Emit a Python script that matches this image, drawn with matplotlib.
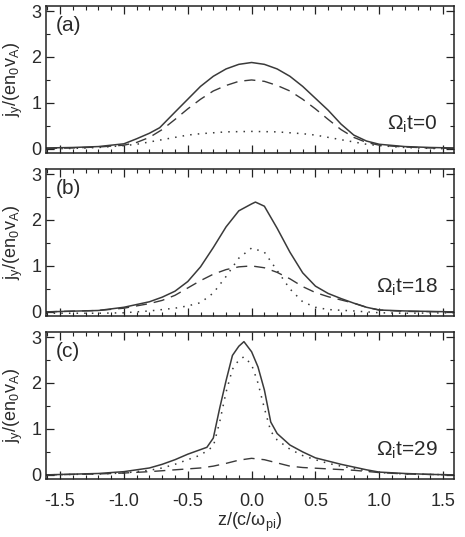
import matplotlib
matplotlib.use("Agg")
import matplotlib.pyplot as plt
import numpy as np
from matplotlib.ticker import MultipleLocator

plt.rcParams['font.family'] = ['Liberation Sans', 'DejaVu Sans']
plt.rcParams['mathtext.fontset'] = 'custom'
plt.rcParams['mathtext.rm'] = 'Liberation Sans'
plt.rcParams['mathtext.it'] = 'Liberation Sans'

# Panel (a) Omega_i t = 0
a_solid_x = [-1.61, -1.4, -1.2, -1.0, -0.9, -0.8, -0.72, -0.6, -0.5, -0.4, -0.3, -0.2, -0.1, 0.0, 0.1, 0.2, 0.3, 0.4, 0.5, 0.6, 0.7, 0.8, 0.9, 1.0, 1.2, 1.4, 1.58]
a_solid_y = [0.02, 0.03, 0.05, 0.11, 0.22, 0.34, 0.46, 0.80, 1.08, 1.36, 1.58, 1.74, 1.84, 1.88, 1.84, 1.74, 1.58, 1.36, 1.10, 0.84, 0.54, 0.30, 0.17, 0.10, 0.05, 0.03, 0.02]
a_dash_x = [-1.61, -1.4, -1.2, -1.0, -0.9, -0.8, -0.7, -0.6, -0.5, -0.4, -0.3, -0.2, -0.1, 0.0, 0.1, 0.2, 0.3, 0.4, 0.5, 0.6, 0.7, 0.8, 0.9, 1.0, 1.2, 1.4, 1.58]
a_dash_y = [0.01, 0.02, 0.04, 0.08, 0.14, 0.25, 0.42, 0.64, 0.87, 1.08, 1.26, 1.38, 1.47, 1.50, 1.47, 1.38, 1.26, 1.08, 0.87, 0.64, 0.42, 0.25, 0.14, 0.08, 0.04, 0.02, 0.01]
a_dot_x = [-1.61, -1.4, -1.2, -1.0, -0.9, -0.8, -0.7, -0.6, -0.5, -0.4, -0.2, 0.0, 0.2, 0.4, 0.5, 0.6, 0.7, 0.8, 0.9, 1.0, 1.2, 1.4, 1.58]
a_dot_y = [0.00, 0.01, 0.03, 0.07, 0.10, 0.15, 0.20, 0.25, 0.30, 0.33, 0.37, 0.38, 0.37, 0.33, 0.30, 0.25, 0.20, 0.15, 0.10, 0.07, 0.03, 0.01, 0.00]

# Panel (b) Omega_i t = 18
b_solid_x = [-1.61, -1.2, -1.0, -0.8, -0.7, -0.6, -0.5, -0.4, -0.3, -0.2, -0.1, 0.0, 0.03, 0.1, 0.2, 0.3, 0.4, 0.5, 0.6, 0.7, 0.8, 0.9, 1.0, 1.2, 1.58]
b_solid_y = [0.00, 0.03, 0.10, 0.22, 0.32, 0.45, 0.66, 0.98, 1.40, 1.85, 2.20, 2.35, 2.39, 2.30, 1.82, 1.30, 0.85, 0.56, 0.40, 0.29, 0.19, 0.10, 0.04, 0.02, 0.00]
b_dash_x = [-1.61, -1.2, -1.0, -0.8, -0.7, -0.6, -0.5, -0.4, -0.3, -0.2, -0.1, 0.0, 0.1, 0.2, 0.3, 0.4, 0.5, 0.6, 0.7, 0.8, 0.9, 1.0, 1.2, 1.58]
b_dash_y = [0.00, 0.03, 0.08, 0.18, 0.25, 0.36, 0.52, 0.68, 0.82, 0.92, 0.98, 1.00, 0.96, 0.86, 0.72, 0.55, 0.42, 0.33, 0.26, 0.19, 0.10, 0.04, 0.01, 0.00]
b_dot_x = [-1.61, -1.2, -1.0, -0.8, -0.7, -0.6, -0.5, -0.4, -0.3, -0.2, -0.1, 0.0, 0.1, 0.2, 0.3, 0.4, 0.5, 0.6, 0.8, 1.0, 1.2, 1.58]
b_dot_y = [-0.03, -0.03, -0.02, 0.02, 0.05, 0.08, 0.13, 0.20, 0.41, 0.77, 1.17, 1.39, 1.30, 0.90, 0.50, 0.22, 0.10, 0.05, 0.02, -0.02, -0.03, -0.02]

# Panel (c) Omega_i t = 29
c_solid_x = [-1.61, -1.2, -1.0, -0.8, -0.7, -0.6, -0.5, -0.4, -0.35, -0.3, -0.25, -0.2, -0.15, -0.1, -0.06, 0.0, 0.05, 0.1, 0.15, 0.2, 0.3, 0.4, 0.5, 0.6, 0.7, 0.8, 0.9, 1.0, 1.2, 1.4, 1.58]
c_solid_y = [0.00, 0.03, 0.07, 0.15, 0.23, 0.33, 0.45, 0.55, 0.60, 0.80, 1.45, 2.05, 2.60, 2.80, 2.90, 2.68, 2.35, 1.85, 1.15, 0.90, 0.65, 0.50, 0.37, 0.30, 0.23, 0.17, 0.11, 0.06, 0.03, 0.01, 0.00]
c_dash_x = [-1.61, -1.2, -1.0, -0.8, -0.6, -0.4, -0.3, -0.2, -0.1, 0.0, 0.1, 0.2, 0.3, 0.4, 0.6, 0.8, 1.0, 1.2, 1.58]
c_dash_y = [0.00, 0.02, 0.04, 0.07, 0.11, 0.15, 0.19, 0.25, 0.32, 0.36, 0.33, 0.26, 0.19, 0.16, 0.13, 0.10, 0.05, 0.02, 0.00]
c_dot_x = [-1.61, -1.2, -1.0, -0.8, -0.7, -0.6, -0.5, -0.4, -0.3, -0.25, -0.2, -0.15, -0.1, -0.06, 0.0, 0.05, 0.1, 0.15, 0.2, 0.3, 0.4, 0.5, 0.6, 0.7, 0.8, 0.9, 1.0, 1.2, 1.58]
c_dot_y = [0.00, 0.02, 0.04, 0.10, 0.15, 0.23, 0.33, 0.43, 0.62, 1.15, 1.80, 2.30, 2.50, 2.57, 2.40, 2.00, 1.45, 0.95, 0.76, 0.56, 0.42, 0.33, 0.25, 0.19, 0.14, 0.09, 0.05, 0.02, 0.00]

panel_labels = ['(a)', '(b)', '(c)']
time_labels = ['0', '18', '29']
x_ticks = [-1.5, -1.0, -0.5, 0.0, 0.5, 1.0, 1.5]
y_ticks = [0, 1, 2, 3]

panels = [
    (a_solid_x, a_solid_y, a_dash_x, a_dash_y, a_dot_x, a_dot_y),
    (b_solid_x, b_solid_y, b_dash_x, b_dash_y, b_dot_x, b_dot_y),
    (c_solid_x, c_solid_y, c_dash_x, c_dash_y, c_dot_x, c_dot_y),
]

W, H = 465, 537
fig = plt.figure(figsize=(W / 100, H / 100), dpi=100)
left, right = 46, 454
tops_bottoms = [(6, 153), (169, 316), (332, 479)]
line_col = '#3a3a3a'
txt_col = '#2a2a2a'

for i, ((sx, sy, dx, dy, ox, oy), (t, b)) in enumerate(zip(panels, tops_bottoms)):
    ax = fig.add_axes([left / W, 1 - b / H, (right - left) / W, (b - t) / H])
    ax.plot(sx, sy, color=line_col, lw=1.1, ls='-')
    ax.plot(dx, dy, color=line_col, lw=1.0, ls=(0, (8, 5)))
    ax.plot(ox, oy, color=line_col, lw=1.1, ls=(0, (1, 4)))
    ax.set_xlim(-1.61, 1.585)
    ax.set_ylim(-0.09, 3.11)
    ax.set_yticks(y_ticks)
    ax.set_xticks(x_ticks)
    ax.xaxis.set_minor_locator(MultipleLocator(0.1))
    ax.yaxis.set_minor_locator(MultipleLocator(0.5))
    ax.tick_params(which='both', direction='in', top=True, right=True, color='#222', labelsize=13, labelcolor=txt_col)
    ax.tick_params(which='major', length=6, width=0.9)
    ax.tick_params(which='minor', length=3, width=0.8)
    ax.tick_params(axis='x', which='major', pad=10)
    for sp in ax.spines.values():
        sp.set_linewidth(1.1)
        sp.set_color('#222')
    if i < 2:
        ax.set_xticklabels([])
    else:
        ax.set_xticklabels(['%.1f' % v for v in x_ticks])
        ax.set_xlabel(r'$\mathregular{z/(c/\omega_{pi})}$', fontsize=13, color=txt_col, labelpad=1)
    ax.set_ylabel(r'$\mathregular{j_y/(en_0v_A)}$', fontsize=13, color=txt_col, labelpad=4)
    ax.text(0.025, 0.93, panel_labels[i], transform=ax.transAxes, fontsize=15, color=txt_col, va='top', ha='left')
    ax.text(0.96, 0.12, r'$\mathregular{\Omega_i}$t=' + time_labels[i], transform=ax.transAxes,
            fontsize=15, color=txt_col, va='bottom', ha='right')

fig.savefig('out.png', dpi=100)
